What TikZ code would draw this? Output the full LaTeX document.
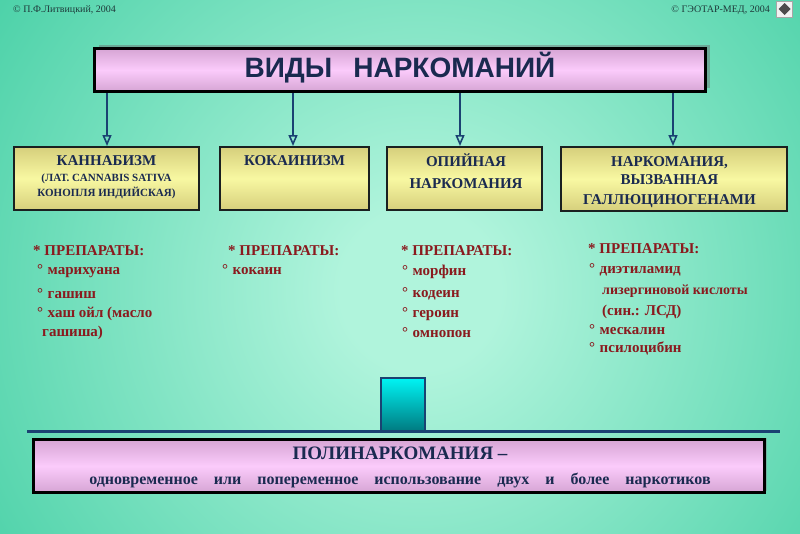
\documentclass[tikz,border=0pt]{standalone}
\usepackage{fontspec}
\setmainfont{Liberation Serif}
\newfontfamily\titlefont{Liberation Sans}
\usetikzlibrary{arrows.meta,shadows,calc}
\definecolor{bglight}{HTML}{B0F4DC}
\definecolor{bgdark}{HTML}{14BE8B}
\definecolor{navy}{HTML}{1A2A50}
\definecolor{arrowblue}{HTML}{1A4272}
\definecolor{darkred}{HTML}{8A1A1E}
\definecolor{pinkmid}{HTML}{FBCBFB}
\definecolor{pinkedge}{HTML}{D6A5D4}
\definecolor{yelmid}{HTML}{F8F8A2}
\definecolor{yeledge}{HTML}{D6CF7C}
\definecolor{cyantop}{HTML}{00F4F4}
\definecolor{tealbot}{HTML}{007A80}
\definecolor{borderdark}{HTML}{1A2020}
\definecolor{shadowcol}{HTML}{6A4A5A}
\definecolor{hdrtext}{HTML}{1E3A3A}
\pgfdeclareradialshading{bgshade}{\pgfpoint{0bp}{0bp}}{color(0bp)=(bglight); color(4bp)=(bglight); color(38bp)=(bgdark); color(50bp)=(bgdark)}
\newcommand\myfs[1]{\fontsize{#1}{#1}\selectfont}
\newcommand\itm{°\hspace{0.3em}}
\newcommand\gap{\hspace{1em}}
\begin{document}
\begin{tikzpicture}[x=1pt,y=-1pt,
  pinkbox/.style={draw=black, line width=3pt, top color=pinkedge, bottom color=pinkedge, middle color=pinkmid, inner sep=0pt},
  yelbox/.style={draw=borderdark, line width=2pt, top color=yeledge, bottom color=yeledge, middle color=yelmid, inner sep=0pt},
  arr/.style={draw=arrowblue, line width=2pt, -{Triangle[open, width=9pt, length=11pt, line width=1.6pt]}},
  btxt/.style={text=navy, font=\myfs{15}\bfseries, inner sep=0pt, anchor=base},
  bsmall/.style={btxt, font=\myfs{11}\bfseries},
  ltxt/.style={text=darkred, font=\myfs{15}\bfseries, inner sep=0pt, anchor=base west},
  htxt/.style={text=hdrtext, font=\myfs{10}, inner sep=0pt},
  ]
\useasboundingbox (0,0) rectangle (800,533);
\begin{scope}
\clip (0,0) rectangle (800,533);
\shade[shading=bgshade] (-80,-210) rectangle (920,790);
\end{scope}

% header
\node[htxt, anchor=base west] (authL) at (13,12.5) {© П.Ф.Литвицкий, 2004};
\node[htxt, anchor=base east] (authR) at (770,12.5) {© ГЭОТАР-МЕД, 2004};
\node[draw=gray!70, fill=gray!10, line width=0.6pt, minimum width=16pt, minimum height=16pt, inner sep=0pt] (icon) at (784.5,9) {};
\fill[gray!60!black] ($(icon.center)+(-6,0)$) -- ($(icon.center)+(0,-6)$) -- ($(icon.center)+(6,0)$) -- ($(icon.center)+(0,6)$) -- cycle;

% title
\node[pinkbox, minimum width=611pt, minimum height=43pt,
  drop shadow={shadow xshift=4pt, shadow yshift=4pt, fill=shadowcol, opacity=0.35}] (title) at (400,70) {};
\node[text=navy, font=\titlefont\myfs{28}\bfseries, inner sep=0pt, anchor=base] (titletext) at (400,77) {ВИДЫ\hspace{0.75em}НАРКОМАНИЙ};

% boxes
\node[yelbox, minimum width=185pt, minimum height=63pt] (box1) at (106.5,178.5) {};
\node[yelbox, minimum width=149pt, minimum height=63pt] (box2) at (294.5,178.5) {};
\node[yelbox, minimum width=155pt, minimum height=63pt] (box3) at (464.5,178.5) {};
\node[yelbox, minimum width=226pt, minimum height=64pt] (box4) at (674,179) {};

\coordinate (a1) at (107,0);
\coordinate (a2) at (293,0);
\coordinate (a3) at (460,0);
\coordinate (a4) at (673,0);
\draw[arr] (title.south -| a1) -- (box1.north -| a1);
\draw[arr] (title.south -| a2) -- (box2.north -| a2);
\draw[arr] (title.south -| a3) -- (box3.north -| a3);
\draw[arr] (title.south -| a4) -- (box4.north -| a4);

\node[btxt] (b1a) at (106.5,165) {КАННАБИЗМ};
\node[bsmall] (b1b) at (106.5,181.5) {(ЛАТ. CANNABIS SATIVA};
\node[bsmall] (b1c) at (106.5,196.5) {КОНОПЛЯ ИНДИЙСКАЯ)};
\node[btxt] (b2a) at (294.5,165) {КОКАИНИЗМ};
\node[btxt] (b3a) at (466,166) {ОПИЙНАЯ};
\node[btxt] (b3b) at (466,188) {НАРКОМАНИЯ};
\node[btxt] (b4a) at (669.5,166) {НАРКОМАНИЯ,};
\node[btxt] (b4b) at (669.5,184) {ВЫЗВАННАЯ};
\node[btxt] (b4c) at (669.5,204) {ГАЛЛЮЦИНОГЕНАМИ};

% lists
\node[ltxt] (l1h) at (33,255) {* ПРЕПАРАТЫ:};
\node[ltxt] (l1a) at (37,274) {\itm марихуана};
\node[ltxt] (l1b) at (37,298) {\itm гашиш};
\node[ltxt] (l1c) at (37,317) {\itm хаш ойл (масло};
\node[ltxt] (l1d) at (42,336) {гашиша)};

\node[ltxt] (l2h) at (228,255) {* ПРЕПАРАТЫ:};
\node[ltxt] (l2a) at (222,274) {\itm кокаин};

\node[ltxt] (l3h) at (401,255) {* ПРЕПАРАТЫ:};
\node[ltxt] (l3a) at (402,275) {\itm морфин};
\node[ltxt] (l3b) at (402,297) {\itm кодеин};
\node[ltxt] (l3c) at (402,317) {\itm героин};
\node[ltxt] (l3d) at (402,337) {\itm омнопон};

\node[ltxt] (l4h) at (588,253) {* ПРЕПАРАТЫ:};
\node[ltxt] (l4a) at (589,273) {\itm диэтиламид};
\node[ltxt, font=\myfs{14}\bfseries] (l4b) at (602,294) {лизергиновой кислоты};
\node[ltxt] (l4c) at (602,315) {(син.: ЛСД)};
\node[ltxt] (l4d) at (589,334) {\itm мескалин};
\node[ltxt] (l4e) at (589,352) {\itm псилоцибин};

% bottom
\coordinate (linel) at (27,431);
\coordinate (liner) at (780,431);
\node[draw=arrowblue, line width=2pt, top color=cyantop, bottom color=tealbot, minimum width=44pt, minimum height=53pt, inner sep=0pt] (stem) at (403,404.5) {};
\draw[arrowblue, line width=3pt] (linel) -- (liner);
\node[pinkbox, minimum width=731pt, minimum height=53pt,
  drop shadow={shadow xshift=2pt, shadow yshift=2pt, fill=gray, opacity=0.4}] (poly) at (399,466) {};
\node[btxt, font=\myfs{19}\bfseries] (polyA) at (400,459) {ПОЛИНАРКОМАНИЯ –};
\node[btxt, font=\myfs{16}\bfseries] (polyB) at (400,484) {одновременное\gap или\gap попеременное\gap использование\gap двух\gap и\gap более\gap наркотиков};
\end{tikzpicture}
\end{document}
